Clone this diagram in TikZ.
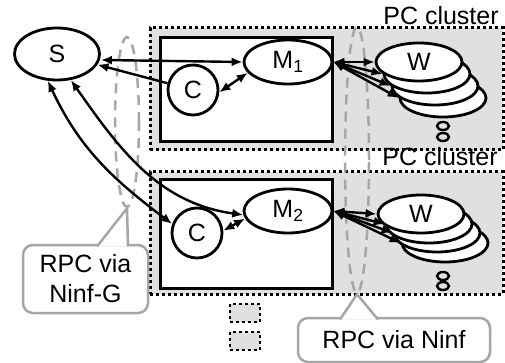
\documentclass[tikz,border=0pt]{standalone}
\usepackage{fontspec}
\setmainfont{Liberation Sans}
\usetikzlibrary{shapes.geometric,arrows.meta}

\begin{document}
\begin{tikzpicture}[
  x=1pt, y=-1pt,
  font=\fontsize{25}{28}\selectfont,
  >={Latex[length=11pt,width=9pt]},
  cluster/.style={draw, fill=black!12, line width=3pt, dash pattern=on 3pt off 3pt, inner sep=0pt},
  host/.style={draw, fill=white, line width=3pt, inner sep=0pt},
  proc/.style={draw, ellipse, fill=white, line width=2.8pt, inner sep=0pt, minimum width=88pt, minimum height=44pt},
  cli/.style={draw, circle, fill=white, line width=2.8pt, inner sep=0pt, minimum size=50pt},
  wrk/.style={proc, minimum width=86pt, minimum height=38pt},
  more/.style={draw, ellipse, line width=2.4pt, inner sep=0pt, minimum width=12pt, minimum height=8pt},
  rpc/.style={draw=black!35, ellipse, line width=2.5pt, dash pattern=on 10pt off 7pt, inner sep=0pt, minimum width=24pt},
  bubble/.style={draw=black!35, fill=white, line width=2.5pt, rounded corners=10pt, align=center, inner sep=0pt, font=\fontsize{25}{30}\selectfont},
  ptr/.style={draw=black!35, fill=white, line width=2.5pt},
  lbl/.style={font=\fontsize{25}{30}\selectfont, inner sep=0pt, anchor=base},
  arr/.style={<->, line width=2.4pt},
  arr one/.style={->, line width=2.4pt}
]
\useasboundingbox (0,0) rectangle (505,363);

% PC clusters and hosts
\node[cluster, minimum width=353pt, minimum height=122pt] (pc1) at (326.5,89) {};
\node[cluster, minimum width=353pt, minimum height=122pt] (pc2) at (326.5,233) {};
\node[host, minimum width=172pt, minimum height=104pt] (host1) at (246,90) {};
\node[host, minimum width=172pt, minimum height=108pt] (host2) at (246,234) {};
\node[lbl] (pc1lbl) at (441,25) {PC cluster};
\node[lbl] (pc2lbl) at (440,166) {PC cluster};

% RPC regions
\node[rpc, minimum height=170pt] (rpcg) at (127,122) {};
\node[rpc, minimum height=266pt] (rpcn) at (357,160) {};

% server, clients, masters
\node[proc, minimum width=85pt, minimum height=52pt] (srv) at (57,54) {S};
\node[cli] (cli1) at (193,90) {C};
\node[cli] (cli2) at (197,233) {C};
\node[proc] (mst1) at (288,62) {M\textsubscript{1}};
\node[proc] (mst2) at (288,211) {M\textsubscript{2}};

% workers
\node[wrk] (wrk1a) at (443,98) {};
\node[wrk] (wrk1b) at (435,86) {};
\node[wrk] (wrk1c) at (427,74) {};
\node[wrk] (wrk1d) at (419,62) {W};
\node[more] (more1a) at (443,126) {};
\node[more] (more1b) at (443,137) {};

\node[wrk] (wrk2a) at (445,243) {};
\node[wrk] (wrk2b) at (437,233) {};
\node[wrk] (wrk2c) at (429,224) {};
\node[wrk] (wrk2d) at (421,214) {W};
\node[more] (more2a) at (443,276) {};
\node[more] (more2b) at (443,286) {};

% connections
\draw[arr] ([yshift=-6pt]srv.east) -- (mst1.west);
\draw[arr one] (cli1) -- (srv);
\draw[arr] (cli1.355) -- (mst1.195);
\draw[arr] (srv.251) to[out=-65, in=143] (cli2.160);
\draw[arr] (srv.298) to[out=-55, in=172] (mst2.185);
\draw[arr] (cli2.5) -- (mst2.190);
\foreach \w in {a,b,c,d} {
  \draw[arr] (mst1.east) -- (wrk1\w.west);
  \draw[arr] (mst2.east) -- (wrk2\w.west);
}

% legend
\node[cluster, line width=2.5pt, minimum width=30pt, minimum height=18pt] (leg1) at (245,313) {};
\node[cluster, line width=2.5pt, minimum width=30pt, minimum height=18pt] (leg2) at (245,341) {};

% callouts
\node[bubble, minimum width=125pt, minimum height=68pt] (ninfg) at (85.5,279) {RPC via\\Ninf-G};
\coordinate (ninfga) at (97,246.5);
\coordinate (ninfgb) at (128,246.5);
\filldraw[ptr] (ninfga) -- (rpcg.south) -- (ninfgb);

\node[bubble, minimum width=192pt, minimum height=44pt] (ninf) at (394,340) {RPC via Ninf};
\coordinate (ninfa) at (340,319.5);
\coordinate (ninfb) at (378,319.5);
\filldraw[ptr] (ninfa) -- (rpcn.south) -- (ninfb);

\end{tikzpicture}
\end{document}
